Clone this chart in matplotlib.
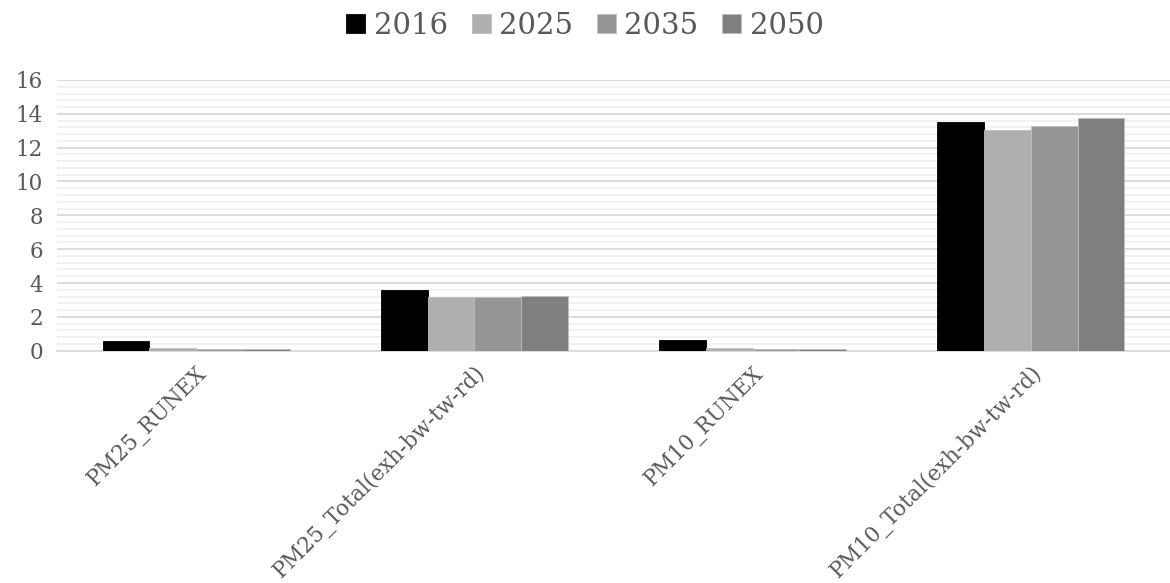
import matplotlib
matplotlib.use("Agg")
import matplotlib.pyplot as plt
import numpy as np
from matplotlib.ticker import MultipleLocator

# data
categories = ["PM25_RUNEX", "PM25_Total(exh-bw-tw-rd)", "PM10_RUNEX", "PM10_Total(exh-bw-tw-rd)"]
years = ["2016", "2025", "2035", "2050"]
v2016 = [0.60, 3.60, 0.63, 13.50]
v2025 = [0.16, 3.15, 0.15, 13.06]
v2035 = [0.08, 3.17, 0.08, 13.30]
v2050 = [0.07, 3.25, 0.07, 13.73]
colors = ["#000000", "#afafaf", "#959595", "#7f7f7f"]

plt.rcParams['font.family'] = ['DejaVu Serif']

fig = plt.figure(figsize=(11.7, 5.83), dpi=100)
ax = fig.add_axes([0.0487, 0.3985, 0.9513, 0.4643])

series = [v2016, v2025, v2035, v2050]
x = np.arange(len(categories))
w = 0.168
for i, (vals, col, lab) in enumerate(zip(series, colors, years)):
    ax.bar(x + (i - 1.5) * w, vals, width=w, color=col, label=lab,
           edgecolor="#bfbfbf" if i > 0 else "#000000", linewidth=0.6, zorder=3)

ax.set_xlim(-0.5, len(categories) - 0.5)
ax.set_ylim(0, 16)
ax.yaxis.set_major_locator(MultipleLocator(2))
ax.yaxis.set_minor_locator(MultipleLocator(0.4))
ax.grid(True, which='major', axis='y', color='#d9d9d9', linewidth=1.3, zorder=0)
ax.grid(True, which='minor', axis='y', color='#f0f0f0', linewidth=1.3, zorder=0)
for s in ['top', 'right', 'left']:
    ax.spines[s].set_visible(False)
ax.spines['bottom'].set_color('#d9d9d9')
ax.spines['bottom'].set_linewidth(1.3)
ax.tick_params(axis='both', which='both', length=0, colors='#595959', labelsize=15.5)
ax.tick_params(axis='y', pad=10)
ax.set_xticks(x)
ax.set_xticklabels(categories, rotation=45, ha='right', va='top', rotation_mode='anchor')
ax.tick_params(axis='x', pad=8)

fig.legend(loc='upper center', bbox_to_anchor=(0.5, 1.025), ncol=4, frameon=False,
           fontsize=21, handlelength=0.65, handleheight=0.65, handletextpad=0.3,
           columnspacing=0.8, labelcolor='#595959')

fig.savefig("out.png", dpi=100)
